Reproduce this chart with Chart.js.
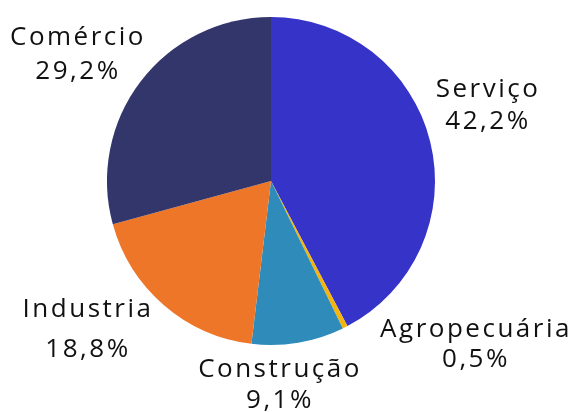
<!DOCTYPE html>
<html><head><meta charset="utf-8">
<script src="https://cdn.jsdelivr.net/npm/chart.js@4"></script>
<style>html,body{margin:0;padding:0;background:#fff}#wrap{width:579px;height:412px}</style>
</head><body><div id="wrap"><canvas id="c"></canvas></div>
<script>
const categories = ["Serviço", "Agropecuária", "Construção", "Industria", "Comércio"];
const values = [42.2, 0.5, 9.1, 18.8, 29.2];
const valueLabels = ["42,2%", "0,5%", "9,1%", "18,8%", "29,2%"];
const colors = ["#3633c9", "#f5b50f", "#2e8bba", "#ee7628", "#32366b"];
const labelPos = [[488, 90, 122], [476, 330, 360], [280, 370, 401], [88, 310, 350], [78, 38, 72]];

const labelPlugin = {
  id: 'outLabels',
  afterDraw(chart) {
    const ctx = chart.ctx;
    ctx.save();
    ctx.fillStyle = '#111';
    ctx.font = '400 26px "Open Sans", Lato, sans-serif';
    ctx.letterSpacing = '2.5px';
    ctx.textAlign = 'center';
    ctx.textBaseline = 'middle';
    categories.forEach((c, i) => {
      const p = labelPos[i];
      ctx.fillText(c, p[0], p[1]);
      ctx.fillText(valueLabels[i], p[0], p[2]);
    });
    ctx.restore();
  }
};

new Chart(document.getElementById('c'), {
  type: 'pie',
  data: { labels: categories, datasets: [{ data: values, backgroundColor: colors, borderWidth: 0 }] },
  options: {
    responsive: true, maintainAspectRatio: false, animation: false,
    layout: { padding: { left: 107, right: 144, top: 17, bottom: 67 } },
    plugins: { legend: { display: false }, tooltip: { enabled: false } }
  },
  plugins: [labelPlugin]
});
</script></body></html>
